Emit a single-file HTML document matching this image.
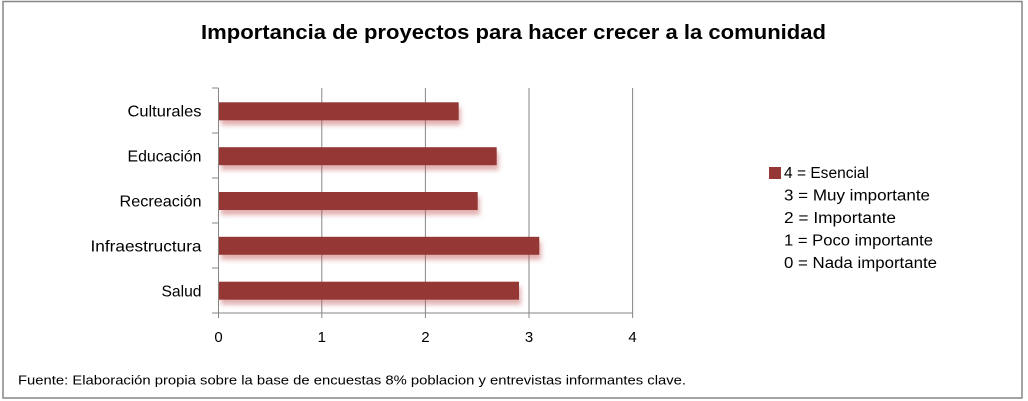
<!DOCTYPE html>
<html>
<head>
<meta charset="utf-8">
<style>
html,body{margin:0;padding:0;background:#fff;}
svg{display:block;}
text{font-family:"Liberation Sans",sans-serif;fill:#000;}
</style>
</head>
<body>
<svg width="1028" height="401" viewBox="0 0 1028 401" xmlns="http://www.w3.org/2000/svg">
<defs>
<filter id="sh" x="-5%" y="-50%" width="110%" height="250%">
<feDropShadow dx="2" dy="5" stdDeviation="2.5" flood-color="#c0504d" flood-opacity="0.45"/>
</filter>
</defs>
<rect x="0" y="0" width="1028" height="401" fill="#fff"/>
<rect x="3" y="1.5" width="1019" height="396.5" fill="#fff" stroke="#868686" stroke-width="1.5"/>

<text x="201" y="39" font-size="20" font-weight="bold" textLength="625" lengthAdjust="spacingAndGlyphs">Importancia de proyectos para hacer crecer a la comunidad</text>

<!-- gridlines -->
<g stroke="#868686" stroke-width="1">
<line x1="321.8" y1="88" x2="321.8" y2="318"/>
<line x1="425.4" y1="88" x2="425.4" y2="318"/>
<line x1="529" y1="88" x2="529" y2="318"/>
<line x1="632.6" y1="88" x2="632.6" y2="318"/>
<!-- axes -->
<line x1="218.5" y1="88" x2="218.5" y2="318"/>
<line x1="212" y1="313" x2="632.6" y2="313"/>
<!-- left ticks -->
<line x1="212" y1="88" x2="218.5" y2="88"/>
<line x1="212" y1="133" x2="218.5" y2="133"/>
<line x1="212" y1="178" x2="218.5" y2="178"/>
<line x1="212" y1="223" x2="218.5" y2="223"/>
<line x1="212" y1="268" x2="218.5" y2="268"/>
</g>

<!-- bars -->
<g fill="#953735" filter="url(#sh)">
<rect x="219" y="102.3" width="239.7" height="18"/>
<rect x="219" y="147.2" width="277.7" height="18"/>
<rect x="219" y="192" width="258.7" height="18"/>
<rect x="219" y="236.8" width="320.3" height="18"/>
<rect x="219" y="281.7" width="300" height="18"/>
</g>

<!-- category labels -->
<g font-size="16" text-anchor="end">
<text x="201.5" y="116.5" textLength="74" lengthAdjust="spacingAndGlyphs">Culturales</text>
<text x="201.5" y="161.5" textLength="74" lengthAdjust="spacingAndGlyphs">Educación</text>
<text x="201.5" y="206.5" textLength="82" lengthAdjust="spacingAndGlyphs">Recreación</text>
<text x="201.5" y="251.5" textLength="111" lengthAdjust="spacingAndGlyphs">Infraestructura</text>
<text x="201.5" y="296.5" textLength="40" lengthAdjust="spacingAndGlyphs">Salud</text>
</g>

<!-- x labels -->
<g font-size="15" text-anchor="middle">
<text x="218.5" y="342">0</text>
<text x="321.8" y="342">1</text>
<text x="425.4" y="342">2</text>
<text x="529" y="342">3</text>
<text x="632.6" y="342">4</text>
</g>

<!-- legend -->
<rect x="769" y="167" width="12" height="12" fill="#953735"/>
<g font-size="15.5">
<text x="784" y="178" textLength="85" lengthAdjust="spacingAndGlyphs">4 = Esencial</text>
<text x="784" y="200.5" textLength="146" lengthAdjust="spacingAndGlyphs">3 = Muy importante</text>
<text x="784" y="223" textLength="112" lengthAdjust="spacingAndGlyphs">2 = Importante</text>
<text x="784" y="245.5" textLength="149" lengthAdjust="spacingAndGlyphs">1 = Poco importante</text>
<text x="784" y="268" textLength="153" lengthAdjust="spacingAndGlyphs">0 = Nada importante</text>
</g>

<text x="18" y="384.5" font-size="13" textLength="668" lengthAdjust="spacingAndGlyphs">Fuente: Elaboración propia sobre la base de encuestas 8% poblacion y entrevistas informantes clave.</text>
</svg>
</body>
</html>
